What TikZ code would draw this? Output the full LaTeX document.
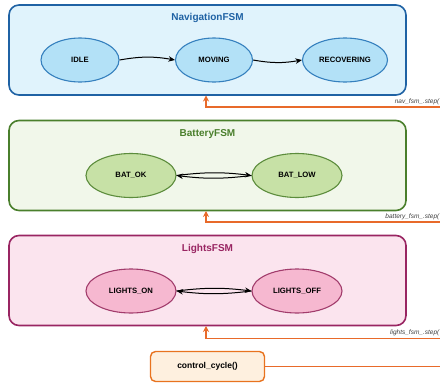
\documentclass[tikz,border=0pt]{standalone}
\usepackage{fontspec}
\setmainfont{Liberation Sans}
\usetikzlibrary{arrows.meta,calc,shapes.geometric}

\definecolor{navfill}{HTML}{E0F3FC}
\definecolor{navline}{HTML}{1F62A4}
\definecolor{navstate}{HTML}{B3E1F7}
\definecolor{navsline}{HTML}{3580BE}
\definecolor{batfill}{HTML}{F1F7EA}
\definecolor{batline}{HTML}{4A7F2C}
\definecolor{batstate}{HTML}{C7E1A6}
\definecolor{batsline}{HTML}{5C8C3C}
\definecolor{ltfill}{HTML}{FBE4EE}
\definecolor{ltline}{HTML}{992562}
\definecolor{ltstate}{HTML}{F6B8D0}
\definecolor{ltsline}{HTML}{A23C6C}
\definecolor{ccfill}{HTML}{FEF0DF}
\definecolor{ccline}{HTML}{E8731F}
\definecolor{callline}{HTML}{E86A2A}

\tikzset{
  fsmbox/.style={draw, line width=1.6pt, rounded corners=10pt,
    minimum width=397pt, minimum height=90pt, inner sep=0pt},
  fsmtitle/.style={font=\fontsize{10}{12}\selectfont\bfseries},
  state/.style={ellipse, draw, line width=1.1pt, inner sep=0pt,
    minimum height=44pt, font=\fontsize{7.7}{9}\selectfont\bfseries},
  trans/.style={line width=1pt, -{Stealth[length=6.5pt,width=5.5pt]}},
  call/.style={draw=callline, line width=1.8pt, -{Stealth[length=6pt,width=6pt]}},
  calllabel/.style={font=\fontsize{6.5}{8}\selectfont\itshape, text=black!75,
    inner sep=0pt, anchor=south east},
}

\begin{document}
\begin{tikzpicture}[x=1pt,y=-1pt]
\useasboundingbox (0,0) rectangle (440,383);
\clip (0,0) rectangle (440,383);

% Navigation machine
\node[fsmbox, fill=navfill, draw=navline] (nav) at (207.5,50) {};
\node[fsmtitle, text=navline] (navt) at (207.5,18) {NavigationFSM};
\node[state, fill=navstate, draw=navsline, minimum width=78pt] (idle) at (80,60) {IDLE};
\node[state, fill=navstate, draw=navsline, minimum width=77pt] (moving) at (214,60) {MOVING};
\node[state, fill=navstate, draw=navsline, minimum width=85pt] (recov) at (345,60) {RECOVERING};
\draw[trans] (idle.east) to[bend left=10] (moving.west);
\draw[trans] (moving.east) to[bend right=10] (recov.west);

% Battery machine
\node[fsmbox, fill=batfill, draw=batline] (bat) at (207.5,165.5) {};
\node[fsmtitle, text=batline] (batt) at (207.5,134) {BatteryFSM};
\node[state, fill=batstate, draw=batsline, minimum width=90pt] (batok) at (131,175.5) {BAT\_OK};
\node[state, fill=batstate, draw=batsline, minimum width=90pt] (batlow) at (297,175.5) {BAT\_LOW};
\draw[trans] (batok.east) to[bend left=7] (batlow.west);
\draw[trans] (batlow.west) to[bend left=7] (batok.east);

% Lights machine
\node[fsmbox, fill=ltfill, draw=ltline] (lt) at (207.5,280.5) {};
\node[fsmtitle, text=ltline] (ltt) at (207.5,249) {LightsFSM};
\node[state, fill=ltstate, draw=ltsline, minimum width=90pt] (lon) at (131,291) {LIGHTS\_ON};
\node[state, fill=ltstate, draw=ltsline, minimum width=90pt] (loff) at (297,291) {LIGHTS\_OFF};
\draw[trans] (lon.east) to[bend left=7] (loff.west);
\draw[trans] (loff.west) to[bend left=7] (lon.east);

% Control cycle and its step() calls
\node[draw=ccline, fill=ccfill, line width=1.4pt, rounded corners=5pt,
  minimum width=114pt, minimum height=30pt, inner sep=0pt,
  font=\fontsize{8.5}{10}\selectfont\bfseries] (cc) at (207.5,366.5) {control\_cycle()};

\coordinate (bus) at (452,366.5);
\draw[call] (cc.east) -- (bus) |- (206,107) -- (206,95.5);
\draw[call] (cc.east) -- (bus) |- (206,222) -- (206,211);
\draw[call] (cc.east) -- (bus) |- (206,338.5) -- (206,326);

\node[calllabel] (lnav) at (439.5,105) {nav\_fsm\_.step(};
\node[calllabel] (lbat) at (439.5,220) {battery\_fsm\_.step(};
\node[calllabel] (llt) at (439.5,336.5) {lights\_fsm\_.step(};
\end{tikzpicture}
\end{document}
